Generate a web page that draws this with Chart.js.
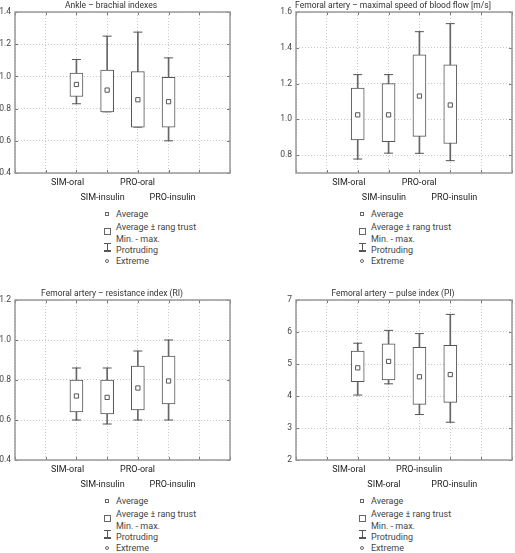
<!DOCTYPE html>
<html><head><meta charset="utf-8">
<script src="https://cdn.jsdelivr.net/npm/chart.js@4"></script>
<style>
html,body{margin:0;padding:0;background:#fff;}
body{width:515px;height:553px;overflow:hidden;position:relative;font-family:Roboto,"Open Sans",sans-serif;}
canvas{position:absolute;}
.lt{position:absolute;font-size:9px;line-height:12px;color:#444;white-space:nowrap;}
.tt{position:absolute;width:260px;text-align:center;font-size:8.5px;line-height:12px;color:#333;white-space:nowrap;}
.sym{position:absolute;box-sizing:border-box;border:1px solid #666;background:#fff;}
.ibar{position:absolute;background:#555;}
</style>
</head><body>
<canvas id="c1" width="248" height="206" style="left:-8px;top:-1px"></canvas>
<canvas id="c2" width="248" height="206" style="left:274px;top:-1px"></canvas>
<canvas id="c3" width="246" height="205" style="left:-6px;top:287px"></canvas>
<canvas id="c4" width="248" height="205" style="left:274px;top:287px"></canvas>
<script>
// ---------- data ----------
const categoriesA = ['SIM-oral', 'SIM-insulin', 'PRO-oral', 'PRO-insulin'];
const categoriesPI = ['SIM-oral', 'SIM-oral', 'PRO-insulin', 'PRO-insulin'];

// Ankle - brachial indexes
const abiMin  = [0.83, 0.78, 0.685, 0.60];
const abiQ1   = [0.875, 0.78, 0.685, 0.685];
const abiMean = [0.95, 0.915, 0.855, 0.843];
const abiQ3   = [1.02, 1.04, 1.03, 0.995];
const abiMax  = [1.105, 1.25, 1.275, 1.115];
const abiTicks = [0.4, 0.6, 0.8, 1.0, 1.2, 1.4];

// Femoral artery - maximal speed of blood flow
const vmaxMin  = [0.778, 0.811, 0.81, 0.769];
const vmaxQ1   = [0.885, 0.875, 0.905, 0.865];
const vmaxMean = [1.025, 1.025, 1.13, 1.08];
const vmaxQ3   = [1.175, 1.2, 1.36, 1.305];
const vmaxMax  = [1.25, 1.25, 1.49, 1.535];
const vmaxTicks = [0.8, 1.0, 1.2, 1.4, 1.6];

// Femoral artery - resistance index (RI)
const riMin  = [0.60, 0.58, 0.60, 0.60];
const riQ1   = [0.64, 0.63, 0.65, 0.68];
const riMean = [0.72, 0.713, 0.76, 0.795];
const riQ3   = [0.80, 0.80, 0.87, 0.92];
const riMax  = [0.86, 0.86, 0.945, 1.0];
const riTicks = [0.4, 0.6, 0.8, 1.0, 1.2];

// Femoral artery - pulse index (PI)
const piMin  = [4.03, 4.38, 3.42, 3.18];
const piQ1   = [4.45, 4.5, 3.74, 3.8];
const piMean = [4.88, 5.08, 4.6, 4.67];
const piQ3   = [5.4, 5.63, 5.52, 5.58];
const piMax  = [5.65, 6.05, 5.95, 6.55];
const piTicks = [2, 3, 4, 5, 6, 7];

const xTickValues = [0, 1, 2, 3, 4, 5, 6, 7];
const titles = ['Ankle \u2013 brachial indexes', 'Femoral artery \u2013 maximal speed of blood flow [m/s]',
                'Femoral artery \u2013 resistance index (RI)', 'Femoral artery \u2013 pulse index (PI)'];
const legendLabels = ['Average', 'Average \u00b1 rang trust', 'Min. - max.', 'Protruding', 'Extreme'];

// ---------- drawing ----------
const FONT = 'Roboto, "Open Sans", sans-serif';
const EDGE = '#555';

const framePlugin = {
  id: 'frame',
  afterDraw(chart) {
    const {ctx, chartArea: a, scales} = chart;
    ctx.save();
    ctx.strokeStyle = '#777';
    ctx.lineWidth = 1;
    ctx.beginPath();
    scales.x.ticks.forEach(t => {
      const px = Math.round(scales.x.getPixelForValue(t.value)) + 0.5;
      ctx.moveTo(px, a.bottom); ctx.lineTo(px, a.bottom - 3);
      ctx.moveTo(px, a.top); ctx.lineTo(px, a.top + 3);
    });
    scales.y.ticks.forEach(t => {
      const py = Math.round(scales.y.getPixelForValue(t.value)) + 0.5;
      ctx.moveTo(a.left, py); ctx.lineTo(a.left + 3, py);
      ctx.moveTo(a.right, py); ctx.lineTo(a.right - 3, py);
    });
    ctx.stroke();
    ctx.strokeStyle = '#999';
    ctx.lineWidth = 1.5;
    ctx.strokeRect(a.left, a.top, a.right - a.left, a.bottom - a.top);
    ctx.restore();
  }
};

function makeChart(id, o) {
  const pos = o.cats.map((c, i) => i + 2);
  new Chart(document.getElementById(id), {
    type: 'bar',
    data: {
      datasets: [
        { type: 'scatter', data: pos.map((x, i) => ({x, y: o.mean[i]})),
          pointStyle: 'rect', pointRadius: 3, backgroundColor: '#fff', borderColor: EDGE, borderWidth: 1 },
        { type: 'bar', data: pos.map((x, i) => ({x, y: [o.q1[i], o.q3[i]]})),
          backgroundColor: '#fff', borderColor: EDGE, borderWidth: 1, borderSkipped: false,
          barThickness: 13, grouped: false },
        { type: 'scatter', data: pos.map((x, i) => ({x, y: o.min[i]})).concat(pos.map((x, i) => ({x, y: o.max[i]}))),
          pointStyle: 'line', pointRadius: 4.5, borderColor: EDGE, borderWidth: 1 },
        { type: 'bar', data: pos.map((x, i) => ({x, y: [o.min[i], o.max[i]]})),
          backgroundColor: '#666', borderWidth: 0, barThickness: 1, grouped: false }
      ]
    },
    options: {
      responsive: false, animation: false, devicePixelRatio: 1,
      layout: { padding: { left: 0, right: 10, top: 13, bottom: 0 } },
      plugins: { legend: { display: false }, tooltip: { enabled: false }, title: { display: false } },
      scales: {
        x: {
          type: 'linear', min: 0, max: 7, offset: false,
          afterBuildTicks: s => { s.ticks = xTickValues.map(v => ({value: v})); },
          afterFit: s => { s.height = 0; },
          grid: { color: '#c8c8c8', lineWidth: 1, drawTicks: false, offset: false },
          border: { display: false, dash: [1, 2] },
          ticks: { display: false }
        },
        xl: {
          type: 'linear', position: 'bottom', axis: 'x', min: 0.5, max: 6.64, offset: false,
          afterBuildTicks: s => { s.ticks = pos.map(v => ({value: v})); },
          afterFit: s => { s.height = 32; },
          grid: { display: false, drawTicks: false },
          border: { display: false },
          ticks: {
            autoSkip: false, maxRotation: 0, minRotation: 0, padding: 2, color: '#222',
            font: { family: FONT, size: 9, lineHeight: '15px' },
            callback: v => {
              const i = v - 2;
              if (i < 0 || i >= o.cats.length) return '';
              return i % 2 === 0 ? [o.cats[i], ''] : ['', o.cats[i]];
            }
          }
        },
        y: {
          type: 'linear', min: o.yMin, max: o.yMax,
          afterBuildTicks: s => { s.ticks = o.ticks.map(v => ({value: v})); },
          afterFit: s => { s.width = o.yWidth; },
          grid: { color: '#c8c8c8', lineWidth: 1, drawTicks: false },
          border: { display: false, dash: [1, 2] },
          ticks: { padding: 4, color: '#444', font: { family: FONT, size: 8.5 },
            callback: v => v.toFixed(o.dec) }
        }
      }
    },
    plugins: [framePlugin]
  });
}

makeChart('c1', { cats: categoriesA, min: abiMin, q1: abiQ1, mean: abiMean, q3: abiQ3, max: abiMax,
  yMin: 0.4, yMax: 1.4, ticks: abiTicks, dec: 1, yWidth: 23 });
makeChart('c2', { cats: categoriesA, min: vmaxMin, q1: vmaxQ1, mean: vmaxMean, q3: vmaxQ3, max: vmaxMax,
  yMin: 0.7, yMax: 1.6, ticks: vmaxTicks, dec: 1, yWidth: 22 });
makeChart('c3', { cats: categoriesA, min: riMin, q1: riQ1, mean: riMean, q3: riQ3, max: riMax,
  yMin: 0.4, yMax: 1.2, ticks: riTicks, dec: 1, yWidth: 21 });
makeChart('c4', { cats: categoriesPI, min: piMin, q1: piQ1, mean: piMean, q3: piQ3, max: piMax,
  yMin: 2, yMax: 7, ticks: piTicks, dec: 0, yWidth: 22 });

// ---------- titles & legends ----------
function el(cls, css, text) {
  const d = document.createElement('div');
  d.className = cls;
  Object.assign(d.style, css);
  if (text) d.textContent = text;
  document.body.appendChild(d);
  return d;
}
const titlePos = [[111, -1], [393, -1], [112, 287], [393, 287]];
titles.forEach((t, i) => el('tt', { left: (titlePos[i][0] - 130) + 'px', top: titlePos[i][1] + 'px' }, t));

function makeLegend(x0, y0) {
  const rows = [0, 13, 25, 36, 47];
  legendLabels.forEach((t, i) => el('lt', { left: (x0 + 116) + 'px', top: (y0 + rows[i] - 6) + 'px' }, t));
  el('sym', { left: (x0 + 105) + 'px', top: (y0 - 2) + 'px', width: '4px', height: '4px' });
  el('sym', { left: (x0 + 104) + 'px', top: (y0 + 14) + 'px', width: '7px', height: '7px' });
  const cy = y0 + 33;
  el('ibar', { left: (x0 + 104) + 'px', top: (cy - 4) + 'px', width: '7px', height: '1px' });
  el('ibar', { left: (x0 + 107) + 'px', top: (cy - 4) + 'px', width: '1px', height: '8px' });
  el('ibar', { left: (x0 + 104) + 'px', top: (cy + 3) + 'px', width: '7px', height: '2px' });
  el('sym', { left: (x0 + 105) + 'px', top: (y0 + 45) + 'px', width: '4px', height: '4px', borderRadius: '50%' });
}
makeLegend(0, 214);
makeLegend(255, 214);
makeLegend(0, 501);
makeLegend(255, 501);
</script>
</body></html>
